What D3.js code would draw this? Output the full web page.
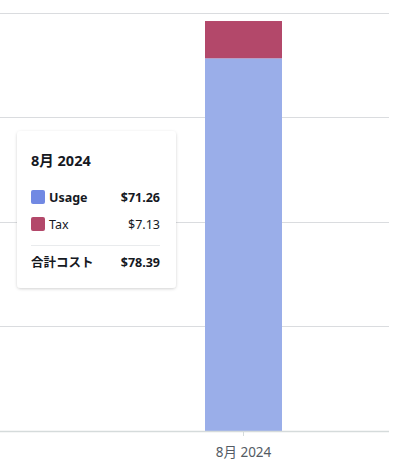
<!DOCTYPE html>
<html lang="ja">
<head>
    <meta charset="utf-8">
    <title>Cost by month</title>
    <style>
        html, body {
            margin: 0;
            padding: 0;
            background: #ffffff;
        }
        body {
            font-family: "Noto Sans", "Noto Sans CJK JP", sans-serif;
        }
        svg { display: block; }
    </style>
</head>
<body>
    <script src="https://d3js.org/d3.v7.min.js"></script>
    <script>
    // data
    var months = ["8月 2024"];
    var seriesNames = ["Usage", "Tax"];
    var usage = [71.26];
    var tax = [7.13];
    var yTicks = [0, 20, 40, 60, 80];
    var totalLabel = "合計コスト";

    var w = 397;
    var h = 476;
    var colors = {Usage: "#9aaee9", Tax: "#b3486a"};
    var swatch = {Usage: "#7189e3", Tax: "#b3486a"};

    var svg = d3.select("body")
        .append("svg")
        .attr("width", w)
        .attr("height", h);

    var y = d3.scaleLinear().domain([0, 80]).range([431, 12.6]);
    var x = d3.scaleBand().domain(months).range([98, 389]).padding(0.5816);

    // gridlines
    svg.append("g")
        .selectAll("line")
        .data(yTicks.slice(1))
        .enter()
        .append("line")
        .attr("x1", 0)
        .attr("x2", 389)
        .attr("y1", function(d) { return Math.round(y(d)) + 0.5; })
        .attr("y2", function(d) { return Math.round(y(d)) + 0.5; })
        .style("stroke", "#dadcdf")
        .style("stroke-width", 1);

    // stacked bars
    var rows = months.map(function(m, i) { return {month: m, Usage: usage[i], Tax: tax[i]}; });
    var stacked = d3.stack().keys(seriesNames)(rows);

    svg.append("g")
        .selectAll("g")
        .data(stacked)
        .enter()
        .append("g")
        .attr("fill", function(d) { return colors[d.key]; })
        .selectAll("rect")
        .data(function(d) { return d; })
        .enter()
        .append("rect")
        .attr("x", function(d) { return x(d.data.month); })
        .attr("width", x.bandwidth())
        .attr("y", function(d) { return y(d[1]); })
        .attr("height", function(d) { return y(d[0]) - y(d[1]); });

    // x axis
    var xAxis = svg.append("g")
        .attr("transform", "translate(0,431)")
        .call(d3.axisBottom(x).tickSize(5).tickPadding(11).tickSizeOuter(0));
    xAxis.select(".domain").remove();
    xAxis.append("line")
        .attr("x1", 0).attr("x2", 389)
        .attr("y1", 0.5).attr("y2", 0.5)
        .style("stroke", "#d5dbdb")
        .style("stroke-width", 1.5);
    xAxis.selectAll(".tick line").style("stroke", "#d5dbdb");
    xAxis.selectAll(".tick text")
        .style("font-family", "'Noto Sans', 'Noto Sans CJK JP', sans-serif")
        .style("font-size", "13.5px")
        .style("fill", "#545b64");

    // tooltip
    var defs = svg.append("defs");
    var filt = defs.append("filter").attr("id", "shadow")
        .attr("x", "-10%").attr("y", "-10%").attr("width", "120%").attr("height", "120%");
    filt.append("feDropShadow")
        .attr("dx", 0).attr("dy", 1).attr("stdDeviation", 1.5)
        .attr("flood-color", "#000").attr("flood-opacity", 0.18);

    var fmt = d3.format("$.2f");
    var tip = svg.append("g").attr("transform", "translate(17,131)");
    tip.append("rect")
        .attr("width", 159)
        .attr("height", 157)
        .attr("rx", 4)
        .attr("fill", "#ffffff")
        .attr("filter", "url(#shadow)");

    tip.append("text")
        .attr("x", 14)
        .attr("y", 35)
        .style("font-size", "14.5px")
        .style("font-weight", "bold")
        .style("fill", "#16191f")
        .text(months[0]);

    var items = [
        {name: "Usage", value: usage[0], bold: true},
        {name: "Tax", value: tax[0], bold: false}
    ];
    var row = tip.selectAll(".row")
        .data(items)
        .enter()
        .append("g")
        .attr("class", "row")
        .attr("transform", function(d, i) { return "translate(0," + (59 + i * 27) + ")"; });
    row.append("rect")
        .attr("x", 14)
        .attr("y", 0)
        .attr("width", 14)
        .attr("height", 14)
        .attr("rx", 2)
        .attr("fill", function(d) { return swatch[d.name]; });
    row.append("text")
        .attr("x", 32)
        .attr("y", 12)
        .style("font-size", "12.5px")
        .style("font-weight", function(d) { return d.bold ? "bold" : "normal"; })
        .style("fill", "#16191f")
        .text(function(d) { return d.name; });
    row.append("text")
        .attr("x", 143)
        .attr("y", 12)
        .attr("text-anchor", "end")
        .style("font-size", "12.5px")
        .style("font-weight", function(d) { return d.bold ? "bold" : "normal"; })
        .style("fill", "#16191f")
        .text(function(d) { return fmt(d.value); });

    tip.append("line")
        .attr("x1", 14).attr("x2", 143)
        .attr("y1", 114.5).attr("y2", 114.5)
        .style("stroke", "#e9ebed");

    tip.append("text")
        .attr("x", 14)
        .attr("y", 136)
        .style("font-size", "12.5px")
        .style("font-weight", "bold")
        .style("fill", "#16191f")
        .text(totalLabel);
    tip.append("text")
        .attr("x", 143)
        .attr("y", 136)
        .attr("text-anchor", "end")
        .style("font-size", "12.5px")
        .style("font-weight", "bold")
        .style("fill", "#16191f")
        .text(fmt(d3.sum([usage[0], tax[0]])));
    </script>
</body>
</html>
